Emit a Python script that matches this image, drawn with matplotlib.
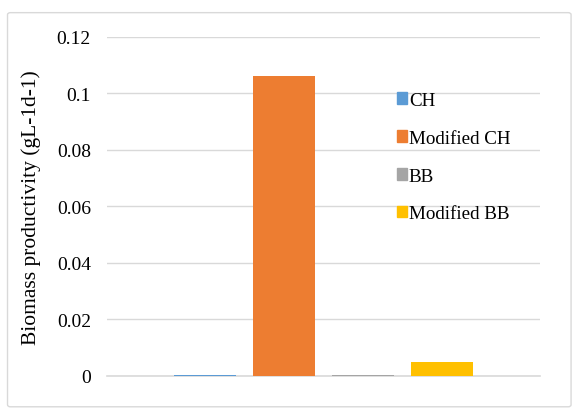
import matplotlib
matplotlib.use("Agg")
import matplotlib.pyplot as plt
from matplotlib.patches import FancyBboxPatch
import numpy as np

series = ["CH", "Modified CH", "BB", "Modified BB"]
values = [0.0004, 0.1062, 0.0004, 0.0050]
colors = ["#5b9bd5", "#ed7d31", "#a5a5a5", "#ffc000"]
yticks = [0, 0.02, 0.04, 0.06, 0.08, 0.1, 0.12]
ytick_labels = ["0", "0.02", "0.04", "0.06", "0.08", "0.1", "0.12"]

plt.rcParams['font.family'] = ['Liberation Serif', 'DejaVu Serif']

fig = plt.figure(figsize=(5.78, 4.14), dpi=100)
border = FancyBboxPatch((0.013, 0.015), 0.975, 0.952, boxstyle="round,pad=0,rounding_size=0.005",
                        transform=fig.transFigure, fill=False, edgecolor="#d9d9d9", linewidth=1.0)
fig.patches.append(border)

ax = fig.add_axes([0.185, 0.0894, 0.749, 0.819])
step = 79 / 433
width = 62 / 433
pos = (np.arange(len(series)) - 1.5) * step
ax.bar(pos, values, width=width, color=colors, zorder=3)

ax.set_xlim(-0.5, 0.5)
ax.set_ylim(0, 0.12)
ax.set_yticks(yticks)
ax.set_yticklabels(ytick_labels, fontsize=14)
ax.set_xticks([])
ax.tick_params(axis='y', length=0, pad=11.5)
ax.grid(axis='y', color="#d9d9d9", linewidth=1.0, zorder=0)
for s in ["top", "right", "left"]:
    ax.spines[s].set_visible(False)
ax.spines["bottom"].set_color("#d9d9d9")
ax.spines["bottom"].set_linewidth(1.2)
ax.set_ylabel("Biomass productivity (gL-1d-1)", fontsize=15.5, labelpad=11)

handles = [plt.Rectangle((0, 0), 1, 1, color=c) for c in colors]
ax.legend(handles, series, loc="upper left", bbox_to_anchor=(0.652, 0.861),
          frameon=False, fontsize=13.7, handlelength=0.55, handleheight=0.55,
          handletextpad=0.08, labelspacing=1.1, borderaxespad=0)

fig.savefig("out.png", dpi=100)
